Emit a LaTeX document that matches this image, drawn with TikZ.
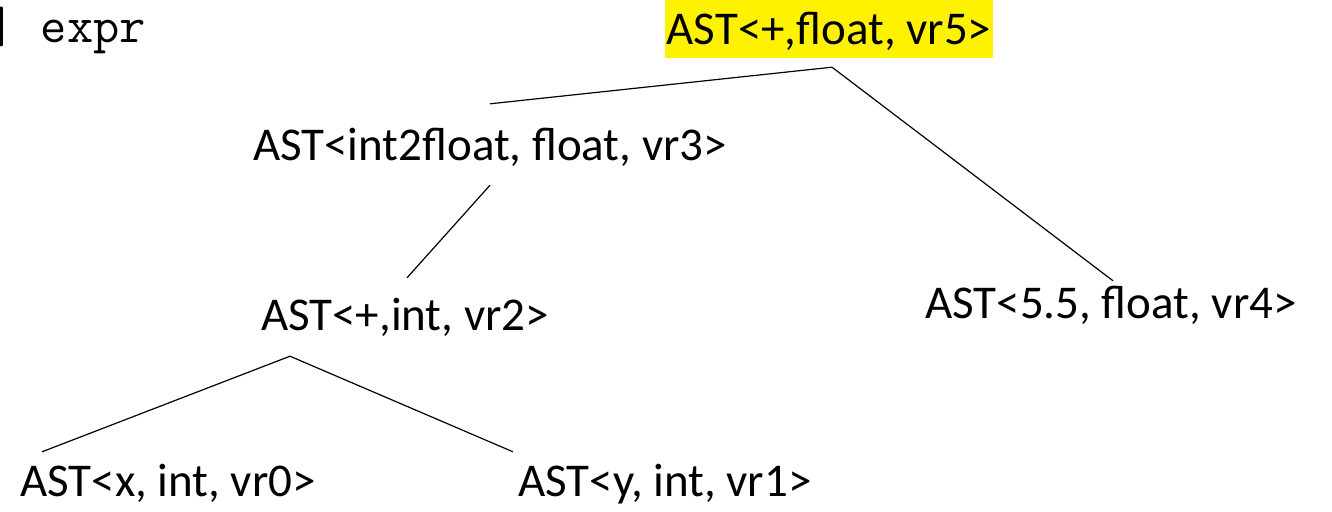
\documentclass[tikz,border=0pt]{standalone}
\usepackage{fontspec}
\setmainfont{Carlito}

\tikzset{
  ast/.style={inner sep=0pt, anchor=base, text height=36pt, text depth=10pt,
    font=\fontsize{47}{56}\selectfont},
  hilite/.style={fill=yellow, inner xsep=2pt, text height=45pt, text depth=13pt},
  edge/.style={line width=1.2pt}
}

\begin{document}
\begin{tikzpicture}[x=1pt, y=-1pt]
\useasboundingbox (0,0) rectangle (1332,511);
\node[inner sep=0pt, anchor=base east, font=\ttfamily\fontsize{51}{60}\selectfont] (lbl) at (146,42) {] expr};
\node[ast, hilite] (vr5) at (829,45) {AST<+,float, vr5>};
\node[ast] (vr3) at (490,160) {AST<int2float, float, vr3>};
\node[ast] (vr4) at (1111,318) {AST<5.5, float, vr4>};
\node[ast] (vr2) at (405,330) {AST<+,int, vr2>};
\node[ast] (vr0) at (168,496) {AST<x, int, vr0>};
\node[ast] (vr1) at (665,496) {AST<y, int, vr1>};
\draw[edge] ([xshift=3pt,yshift=-9pt]vr5.south) -- ([yshift=20pt]vr3.north);
\draw[edge] ([xshift=3pt,yshift=-9pt]vr5.south) -- ([xshift=2pt,yshift=1pt]vr4.north);
\draw[edge] ([yshift=-15pt]vr3.south) -- ([xshift=2pt,yshift=16pt]vr2.north);
\draw[edge] ([xshift=-115pt,yshift=-16pt]vr2.south) -- ([xshift=-126pt,yshift=8pt]vr0.north);
\draw[edge] ([xshift=-115pt,yshift=-16pt]vr2.south) -- ([xshift=-152pt,yshift=8pt]vr1.north);
\end{tikzpicture}
\end{document}
